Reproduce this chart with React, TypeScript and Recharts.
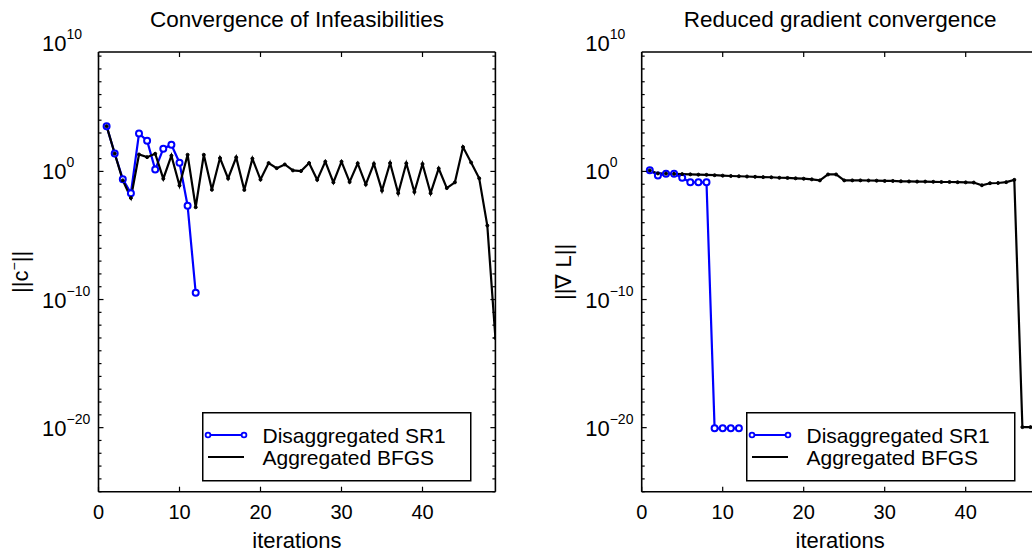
import React from "react";
import { LineChart, Line, XAxis, YAxis, Legend, Label } from "recharts";

const FONT = '"Liberation Sans", Arial, Helvetica, sans-serif';
const SR1 = "Disaggregated SR1";
const BFGS = "Aggregated BFGS";
const BLUE = "#0000ff";
const legendOrder = [SR1, BFGS];

const sr1Iterations = [1, 2, 3, 4, 5, 6, 7, 8, 9, 10, 11, 12];
const bfgsIterations = [
  1, 2, 3, 4, 5, 6, 7, 8, 9, 10, 11, 12, 13, 14, 15, 16, 17, 18, 19, 20, 21, 22, 23, 24, 25,
  26, 27, 28, 29, 30, 31, 32, 33, 34, 35, 36, 37, 38, 39, 40, 41, 42, 43, 44, 45, 46, 47, 48, 49,
];

// ||c-|| per iteration
const sr1Infeasibility = [3.4e3, 2.5e1, 2.5e-1, 2e-2, 9e2, 2.5e2, 1.4, 6e1, 1.2e2, 4.8, 2.1e-3, 3.4e-10];
const bfgsInfeasibility = [
  3.4e3, 2.5e1, 2e-1, 8.5e-3, 2.1e1, 1.3e1, 2.4e1, 2.7e-1, 1.7e1, 8e-2, 2e1, 1.6e-3, 2e1, 3.7e-2,
  1.1e1, 2.8e-1, 1.25e1, 3.6e-2, 1e1, 2.3e-1, 4.5, 1.8, 3.5, 1.2, 1.07, 4.5, 2.2e-1, 5.8, 1.4e-1,
  5.8, 1.5e-1, 4.3, 9.5e-2, 4, 3.2e-2, 4.5, 2e-2, 4.3, 2.5e-2, 3.8, 2e-2, 1.7, 5e-2, 1.4e-1, 8e1,
  5, 2.9e-1, 6e-5, 1e-13,
];

// ||grad L|| per iteration
const sr1Gradient = [1.23, 4.8e-1, 6.5e-1, 6.5e-1, 3.2e-1, 1.4e-1, 1.4e-1, 1.4e-1, 8.9e-21, 8.9e-21, 8.9e-21, 8.9e-21];
const bfgsGradient = [
  1.2, 7e-1, 6.8e-1, 6.5e-1, 6.2e-1, 5.9e-1, 5.6e-1, 5.4e-1, 5.1e-1, 4.7e-1, 4.4e-1, 4.2e-1, 4e-1,
  3.8e-1, 3.6e-1, 3.5e-1, 3.2e-1, 3.1e-1, 2.9e-1, 2.7e-1, 2.4e-1, 2e-1, 5.8e-1, 5.8e-1, 2e-1, 2e-1,
  2e-1, 1.95e-1, 1.9e-1, 1.8e-1, 1.8e-1, 1.7e-1, 1.65e-1, 1.6e-1, 1.6e-1, 1.55e-1, 1.5e-1, 1.5e-1,
  1.45e-1, 1.4e-1, 1.35e-1, 8.3e-2, 1.2e-1, 1.25e-1, 1.45e-1, 2.2e-1, 1.1e-20, 1.1e-20, 1.1e-20,
];

const xTicks = [0, 10, 20, 30, 40];
const yTicks = [
  1e-25, 1e-24, 1e-23, 1e-22, 1e-21, 1e-20, 1e-19, 1e-18, 1e-17, 1e-16, 1e-15, 1e-14, 1e-13,
  1e-12, 1e-11, 1e-10, 1e-9, 1e-8, 1e-7, 1e-6, 1e-5, 1e-4, 1e-3, 1e-2, 1e-1, 1, 1e1, 1e2, 1e3,
  1e4, 1e5, 1e6, 1e7, 1e8, 1e9, 1e10,
];
const yMajorExponents = [-20, -10, 0, 10];
const X_DOMAIN = [0, 49];
const Y_DOMAIN = [1e-25, 2.1e9];

const toRows = (iters: number[], values: number[]) => iters.map((it, k) => ({ it, v: values[k] }));

function YTick(props: any) {
  const { x, y, payload, side } = props;
  const v = payload.value as number;
  const e = Math.round(Math.log10(v));
  const major = yMajorExponents.includes(e);
  const inside = v <= Y_DOMAIN[1];
  const len = major ? 5 : 3;
  const dir = side === "left" ? 1 : -1;
  return (
    <g>
      {inside && <line x1={x} x2={x + dir * len} y1={y} y2={y} stroke="#000" strokeWidth={1.2} />}
      {major && side === "left" && (
        <text x={x - 56.5} y={y + 8} fontSize={22} fill="#000" fontFamily={FONT}>
          10
          <tspan dy={-12} fontSize={14}>
            {e < 0 ? `\u2212${-e}` : `${e}`}
          </tspan>
        </text>
      )}
    </g>
  );
}

function XTick(props: any) {
  const { x, y, payload, side } = props;
  const dir = side === "bottom" ? -1 : 1;
  return (
    <g>
      <line x1={x} x2={x} y1={y} y2={y + dir * 5} stroke="#000" strokeWidth={1.2} />
      {side === "bottom" && (
        <text x={x} y={y + 27.6} textAnchor="middle" fontSize={20} fill="#000" fontFamily={FONT}>
          {payload.value}
        </text>
      )}
    </g>
  );
}

function LegendBox(props: any) {
  const items = [...(props.payload || [])].sort(
    (a: any, b: any) => legendOrder.indexOf(a.value) - legendOrder.indexOf(b.value),
  );
  return (
    <svg width={270} height={70} style={{ display: "block" }}>
      <rect x={0.75} y={0.75} width={268} height={68} fill="#fff" stroke="#000" strokeWidth={1.5} />
      {items.map((entry: any, k: number) => {
        const cy = 23 + 22 * k;
        const withDots = entry.value === SR1;
        return (
          <g key={entry.value}>
            <line x1={6} x2={42} y1={cy} y2={cy} stroke={entry.color} strokeWidth={2.2} />
            {withDots && (
              <>
                <circle cx={6} cy={cy} r={2.4} fill="#fff" stroke={entry.color} strokeWidth={1.8} />
                <circle cx={42} cy={cy} r={2.4} fill="#fff" stroke={entry.color} strokeWidth={1.8} />
              </>
            )}
            <text x={60.5} y={cy + 7.5} fontSize={21} fill="#000" fontFamily={FONT}>
              {entry.value}
            </text>
          </g>
        );
      })}
    </svg>
  );
}

const axisLine = { stroke: "#000", strokeWidth: 1.6 };

type PanelProps = {
  left: number;
  marginLeft: number;
  marginRight: number;
  title: string;
  yLabel: React.ReactNode;
  sr1: { it: number; v: number }[];
  bfgs: { it: number; v: number }[];
  legendLeft: number;
};

function Panel({ left, marginLeft, marginRight, title, yLabel, sr1, bfgs, legendLeft }: PanelProps) {
  return (
    <div style={{ position: "absolute", left, top: 0 }}>
      <LineChart
        width={520}
        height={552}
        margin={{ top: 51, right: marginRight - 1, bottom: 59.3, left: marginLeft - 1 }}
      >
        <XAxis
          xAxisId="b"
          type="number"
          dataKey="it"
          domain={X_DOMAIN}
          allowDataOverflow
          ticks={xTicks}
          interval={0}
          height={1}
          tickSize={0}
          tickMargin={0}
          tickLine={false}
          axisLine={axisLine}
          tick={(p: any) => <XTick {...p} side="bottom" />}
        >
          <Label
            content={(p: any) => {
              const vb = p.viewBox;
              return (
                <text x={vb.x + vb.width / 2} y={vb.y + 56} textAnchor="middle" fontSize={22} fill="#000" fontFamily={FONT}>
                  iterations
                </text>
              );
            }}
          />
        </XAxis>
        <XAxis
          xAxisId="t"
          orientation="top"
          type="number"
          dataKey="it"
          domain={X_DOMAIN}
          allowDataOverflow
          ticks={xTicks}
          interval={0}
          height={1}
          tickSize={0}
          tickMargin={0}
          tickLine={false}
          axisLine={axisLine}
          tick={(p: any) => <XTick {...p} side="top" />}
        >
          <Label
            content={(p: any) => {
              const vb = p.viewBox;
              return (
                <text x={vb.x + vb.width / 2} y={vb.y + vb.height - 24.7} textAnchor="middle" fontSize={22.5} fill="#000" fontFamily={FONT}>
                  {title}
                </text>
              );
            }}
          />
        </XAxis>
        <YAxis
          yAxisId="l"
          type="number"
          scale="log"
          domain={Y_DOMAIN}
          allowDataOverflow
          ticks={yTicks}
          interval={0}
          width={1}
          tickSize={0}
          tickMargin={0}
          tickLine={false}
          axisLine={axisLine}
          tick={(p: any) => <YTick {...p} side="left" />}
        >
          <Label
            content={(p: any) => {
              const vb = p.viewBox;
              const cx = vb.x + vb.width - 70.5;
              const cy = vb.y + vb.height / 2;
              return (
                <text x={cx} y={cy} transform={`rotate(-90 ${cx} ${cy})`} textAnchor="middle" fontSize={22} fill="#000" fontFamily={FONT}>
                  {yLabel}
                </text>
              );
            }}
          />
        </YAxis>
        <YAxis
          yAxisId="r"
          orientation="right"
          type="number"
          scale="log"
          domain={Y_DOMAIN}
          allowDataOverflow
          ticks={yTicks}
          interval={0}
          width={1}
          tickSize={0}
          tickMargin={0}
          tickLine={false}
          axisLine={axisLine}
          tick={(p: any) => <YTick {...p} side="right" />}
        />
        <Legend
          layout="horizontal"
          verticalAlign="middle"
          align="center"
          wrapperStyle={{ left: legendLeft, top: 412, width: 270, height: 70 }}
          content={(p: any) => <LegendBox {...p} />}
        />
        <Line
          xAxisId="b"
          yAxisId="l"
          data={sr1}
          dataKey="v"
          name={SR1}
          stroke={BLUE}
          strokeWidth={2.2}
          dot={{ r: 3, stroke: BLUE, strokeWidth: 2, fill: "#fff" }}
          isAnimationActive={false}
        />
        <Line
          xAxisId="b"
          yAxisId="l"
          data={bfgs}
          dataKey="v"
          name={BFGS}
          stroke="#000"
          strokeWidth={2.2}
          dot={{ r: 1.5, stroke: "#000", strokeWidth: 1, fill: "#000" }}
          isAnimationActive={false}
        />
      </LineChart>
    </div>
  );
}

export default function App() {
  return (
    <div
      style={{
        position: "fixed",
        left: 0,
        top: 0,
        width: 1032,
        height: 552,
        overflow: "hidden",
        background: "#fff",
      }}
    >
      <Panel
        left={0}
        marginLeft={98.5}
        marginRight={24.6}
        title="Convergence of Infeasibilities"
        yLabel={
          <>
            ||c<tspan dy={-9} fontSize={14}>{"\u2212"}</tspan>
            <tspan dy={9}>||</tspan>
          </>
        }
        sr1={toRows(sr1Iterations, sr1Infeasibility)}
        bfgs={toRows(bfgsIterations, bfgsInfeasibility)}
        legendLeft={202}
      />
      <Panel
        left={540}
        marginLeft={101.7}
        marginRight={21.4}
        title="Reduced gradient convergence"
        yLabel={"||\u2207 L||"}
        sr1={toRows(sr1Iterations, sr1Gradient)}
        bfgs={toRows(bfgsIterations, bfgsGradient)}
        legendLeft={206}
      />
    </div>
  );
}
